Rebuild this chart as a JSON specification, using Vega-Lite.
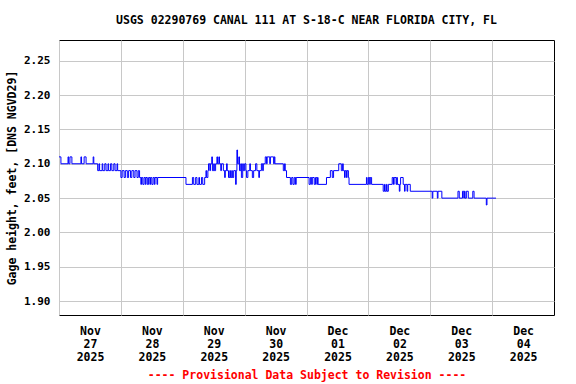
{
  "$schema": "https://vega.github.io/schema/vega-lite/v6.json",
  "width": 495,
  "height": 275,
  "autosize": {"type": "none"},
  "padding": {"left": 59, "top": 40, "right": 22, "bottom": 69},
  "background": "white",
  "config": {
    "view": {"stroke": "black", "strokeWidth": 1},
    "font": "DejaVu Sans Mono",
    "axis": {"labelFont": "DejaVu Sans Mono", "titleFont": "DejaVu Sans Mono", "labelFontWeight": "bold", "titleFontWeight": "bold", "labelColor": "black", "titleColor": "black", "gridColor": "#c8c8c8", "gridOpacity": 1, "gridWidth": 1, "domain": false, "ticks": false}
  },
  "title": {"text": "USGS 02290769 CANAL 111 AT S-18-C NEAR FLORIDA CITY, FL", "font": "DejaVu Sans Mono", "fontSize": 11.5, "fontWeight": "bold", "color": "black", "anchor": "middle", "offset": 14},
  "data": {"values": [
    {"t": "2025-11-27T00:00", "v": 2.11}, {"t": "2025-11-27T00:45", "v": 2.10}, {"t": "2025-11-27T03:30", "v": 2.11}, {"t": "2025-11-27T03:45", "v": 2.10},
    {"t": "2025-11-27T04:15", "v": 2.11}, {"t": "2025-11-27T05:00", "v": 2.10}, {"t": "2025-11-27T08:30", "v": 2.11}, {"t": "2025-11-27T08:45", "v": 2.10},
    {"t": "2025-11-27T09:45", "v": 2.11}, {"t": "2025-11-27T10:30", "v": 2.10}, {"t": "2025-11-27T13:15", "v": 2.11}, {"t": "2025-11-27T13:30", "v": 2.10},
    {"t": "2025-11-27T15:00", "v": 2.09}, {"t": "2025-11-27T15:30", "v": 2.10}, {"t": "2025-11-27T15:45", "v": 2.09}, {"t": "2025-11-27T16:45", "v": 2.10},
    {"t": "2025-11-27T17:00", "v": 2.09}, {"t": "2025-11-27T17:45", "v": 2.10}, {"t": "2025-11-27T18:15", "v": 2.09}, {"t": "2025-11-27T19:00", "v": 2.10},
    {"t": "2025-11-27T19:15", "v": 2.09}, {"t": "2025-11-27T20:00", "v": 2.10}, {"t": "2025-11-27T20:30", "v": 2.09}, {"t": "2025-11-27T21:15", "v": 2.10},
    {"t": "2025-11-27T21:45", "v": 2.09}, {"t": "2025-11-27T22:30", "v": 2.10}, {"t": "2025-11-27T22:45", "v": 2.09},
    {"t": "2025-11-28T00:00", "v": 2.08}, {"t": "2025-11-28T00:30", "v": 2.09}, {"t": "2025-11-28T01:15", "v": 2.08}, {"t": "2025-11-28T01:45", "v": 2.09},
    {"t": "2025-11-28T02:30", "v": 2.08}, {"t": "2025-11-28T03:00", "v": 2.09}, {"t": "2025-11-28T03:45", "v": 2.08}, {"t": "2025-11-28T04:15", "v": 2.09},
    {"t": "2025-11-28T05:00", "v": 2.08}, {"t": "2025-11-28T05:30", "v": 2.09}, {"t": "2025-11-28T06:15", "v": 2.08}, {"t": "2025-11-28T06:45", "v": 2.09},
    {"t": "2025-11-28T07:15", "v": 2.08}, {"t": "2025-11-28T07:45", "v": 2.07}, {"t": "2025-11-28T08:00", "v": 2.08}, {"t": "2025-11-28T08:30", "v": 2.07},
    {"t": "2025-11-28T09:00", "v": 2.08}, {"t": "2025-11-28T09:30", "v": 2.07}, {"t": "2025-11-28T09:45", "v": 2.08}, {"t": "2025-11-28T10:15", "v": 2.07},
    {"t": "2025-11-28T10:45", "v": 2.08}, {"t": "2025-11-28T11:15", "v": 2.07}, {"t": "2025-11-28T11:30", "v": 2.08}, {"t": "2025-11-28T12:00", "v": 2.07},
    {"t": "2025-11-28T12:30", "v": 2.08}, {"t": "2025-11-28T13:00", "v": 2.07}, {"t": "2025-11-28T13:15", "v": 2.08}, {"t": "2025-11-28T14:00", "v": 2.07},
    {"t": "2025-11-28T14:15", "v": 2.08},
    {"t": "2025-11-29T01:15", "v": 2.07}, {"t": "2025-11-29T03:45", "v": 2.08}, {"t": "2025-11-29T04:15", "v": 2.07}, {"t": "2025-11-29T05:00", "v": 2.08},
    {"t": "2025-11-29T05:30", "v": 2.07}, {"t": "2025-11-29T06:15", "v": 2.08}, {"t": "2025-11-29T06:30", "v": 2.07}, {"t": "2025-11-29T07:15", "v": 2.08},
    {"t": "2025-11-29T07:45", "v": 2.07}, {"t": "2025-11-29T08:30", "v": 2.08}, {"t": "2025-11-29T09:00", "v": 2.09}, {"t": "2025-11-29T09:15", "v": 2.08},
    {"t": "2025-11-29T09:45", "v": 2.09}, {"t": "2025-11-29T10:00", "v": 2.10}, {"t": "2025-11-29T10:30", "v": 2.09}, {"t": "2025-11-29T10:45", "v": 2.10},
    {"t": "2025-11-29T11:15", "v": 2.11}, {"t": "2025-11-29T11:30", "v": 2.09}, {"t": "2025-11-29T12:00", "v": 2.10}, {"t": "2025-11-29T12:15", "v": 2.09},
    {"t": "2025-11-29T12:45", "v": 2.10}, {"t": "2025-11-29T13:15", "v": 2.11}, {"t": "2025-11-29T13:30", "v": 2.10}, {"t": "2025-11-29T14:00", "v": 2.11},
    {"t": "2025-11-29T14:15", "v": 2.10}, {"t": "2025-11-29T14:45", "v": 2.09}, {"t": "2025-11-29T15:00", "v": 2.10}, {"t": "2025-11-29T15:45", "v": 2.09},
    {"t": "2025-11-29T16:15", "v": 2.08}, {"t": "2025-11-29T16:30", "v": 2.09}, {"t": "2025-11-29T17:00", "v": 2.10}, {"t": "2025-11-29T17:15", "v": 2.09},
    {"t": "2025-11-29T17:45", "v": 2.08}, {"t": "2025-11-29T18:15", "v": 2.09}, {"t": "2025-11-29T18:30", "v": 2.08}, {"t": "2025-11-29T19:00", "v": 2.09},
    {"t": "2025-11-29T19:15", "v": 2.08}, {"t": "2025-11-29T19:45", "v": 2.09}, {"t": "2025-11-29T20:30", "v": 2.07}, {"t": "2025-11-29T20:45", "v": 2.09},
    {"t": "2025-11-29T21:00", "v": 2.12}, {"t": "2025-11-29T21:15", "v": 2.10}, {"t": "2025-11-29T21:45", "v": 2.11}, {"t": "2025-11-29T22:00", "v": 2.09},
    {"t": "2025-11-29T22:30", "v": 2.10}, {"t": "2025-11-29T22:45", "v": 2.08}, {"t": "2025-11-29T23:15", "v": 2.10}, {"t": "2025-11-29T23:30", "v": 2.09},
    {"t": "2025-11-30T00:00", "v": 2.10}, {"t": "2025-11-30T00:30", "v": 2.09}, {"t": "2025-11-30T00:45", "v": 2.08}, {"t": "2025-11-30T01:15", "v": 2.09},
    {"t": "2025-11-30T02:00", "v": 2.10}, {"t": "2025-11-30T02:15", "v": 2.09}, {"t": "2025-11-30T03:00", "v": 2.08}, {"t": "2025-11-30T03:30", "v": 2.09},
    {"t": "2025-11-30T04:15", "v": 2.10}, {"t": "2025-11-30T04:45", "v": 2.09}, {"t": "2025-11-30T05:30", "v": 2.08}, {"t": "2025-11-30T05:45", "v": 2.09},
    {"t": "2025-11-30T06:30", "v": 2.10}, {"t": "2025-11-30T07:00", "v": 2.09}, {"t": "2025-11-30T07:15", "v": 2.10}, {"t": "2025-11-30T08:00", "v": 2.11},
    {"t": "2025-11-30T08:30", "v": 2.10}, {"t": "2025-11-30T08:45", "v": 2.11}, {"t": "2025-11-30T09:45", "v": 2.10}, {"t": "2025-11-30T10:00", "v": 2.11},
    {"t": "2025-11-30T11:15", "v": 2.10}, {"t": "2025-11-30T11:30", "v": 2.11}, {"t": "2025-11-30T11:45", "v": 2.10}, {"t": "2025-11-30T15:00", "v": 2.09},
    {"t": "2025-11-30T15:30", "v": 2.10}, {"t": "2025-11-30T15:45", "v": 2.09}, {"t": "2025-11-30T16:15", "v": 2.08}, {"t": "2025-11-30T17:45", "v": 2.07},
    {"t": "2025-11-30T18:15", "v": 2.08}, {"t": "2025-11-30T18:45", "v": 2.07}, {"t": "2025-11-30T19:15", "v": 2.08}, {"t": "2025-11-30T19:45", "v": 2.07},
    {"t": "2025-11-30T20:00", "v": 2.08},
    {"t": "2025-12-01T01:00", "v": 2.07}, {"t": "2025-12-01T01:30", "v": 2.08}, {"t": "2025-12-01T02:00", "v": 2.07}, {"t": "2025-12-01T02:15", "v": 2.08},
    {"t": "2025-12-01T03:00", "v": 2.07}, {"t": "2025-12-01T03:30", "v": 2.08}, {"t": "2025-12-01T04:00", "v": 2.07}, {"t": "2025-12-01T04:15", "v": 2.08},
    {"t": "2025-12-01T04:30", "v": 2.07}, {"t": "2025-12-01T07:45", "v": 2.08}, {"t": "2025-12-01T09:15", "v": 2.09}, {"t": "2025-12-01T10:00", "v": 2.08},
    {"t": "2025-12-01T10:30", "v": 2.09}, {"t": "2025-12-01T12:30", "v": 2.10}, {"t": "2025-12-01T13:30", "v": 2.09}, {"t": "2025-12-01T14:00", "v": 2.10},
    {"t": "2025-12-01T14:15", "v": 2.09}, {"t": "2025-12-01T14:45", "v": 2.08}, {"t": "2025-12-01T15:00", "v": 2.09}, {"t": "2025-12-01T15:30", "v": 2.08},
    {"t": "2025-12-01T15:45", "v": 2.09}, {"t": "2025-12-01T16:15", "v": 2.08}, {"t": "2025-12-01T16:30", "v": 2.07}, {"t": "2025-12-01T23:15", "v": 2.08},
    {"t": "2025-12-01T23:30", "v": 2.07},
    {"t": "2025-12-02T00:00", "v": 2.08}, {"t": "2025-12-02T00:30", "v": 2.07}, {"t": "2025-12-02T00:45", "v": 2.08}, {"t": "2025-12-02T01:15", "v": 2.07},
    {"t": "2025-12-02T05:45", "v": 2.06}, {"t": "2025-12-02T06:15", "v": 2.07}, {"t": "2025-12-02T06:30", "v": 2.06}, {"t": "2025-12-02T07:00", "v": 2.07},
    {"t": "2025-12-02T07:15", "v": 2.06}, {"t": "2025-12-02T07:45", "v": 2.07}, {"t": "2025-12-02T09:15", "v": 2.08}, {"t": "2025-12-02T09:45", "v": 2.07},
    {"t": "2025-12-02T10:00", "v": 2.08}, {"t": "2025-12-02T10:45", "v": 2.07}, {"t": "2025-12-02T11:00", "v": 2.08}, {"t": "2025-12-02T11:15", "v": 2.07},
    {"t": "2025-12-02T12:00", "v": 2.06}, {"t": "2025-12-02T12:15", "v": 2.07}, {"t": "2025-12-02T12:30", "v": 2.08}, {"t": "2025-12-02T13:30", "v": 2.07},
    {"t": "2025-12-02T14:00", "v": 2.06}, {"t": "2025-12-02T14:15", "v": 2.07}, {"t": "2025-12-02T15:00", "v": 2.06}, {"t": "2025-12-02T15:15", "v": 2.07},
    {"t": "2025-12-02T16:15", "v": 2.06},
    {"t": "2025-12-03T00:45", "v": 2.05}, {"t": "2025-12-03T01:00", "v": 2.06}, {"t": "2025-12-03T02:45", "v": 2.05}, {"t": "2025-12-03T03:00", "v": 2.06},
    {"t": "2025-12-03T04:30", "v": 2.05}, {"t": "2025-12-03T10:45", "v": 2.06}, {"t": "2025-12-03T11:15", "v": 2.05}, {"t": "2025-12-03T12:30", "v": 2.06},
    {"t": "2025-12-03T13:00", "v": 2.05}, {"t": "2025-12-03T13:15", "v": 2.06}, {"t": "2025-12-03T13:30", "v": 2.05}, {"t": "2025-12-03T14:00", "v": 2.06},
    {"t": "2025-12-03T14:45", "v": 2.05}, {"t": "2025-12-03T16:30", "v": 2.06}, {"t": "2025-12-03T17:00", "v": 2.05}, {"t": "2025-12-03T21:45", "v": 2.04},
    {"t": "2025-12-03T22:00", "v": 2.05},
    {"t": "2025-12-04T01:30", "v": 2.05}
  ]},
  "mark": {"type": "line", "interpolate": "step-after", "color": "#0000ff", "strokeWidth": 1},
  "encoding": {
    "x": {
      "field": "t", "type": "temporal",
      "scale": {"domain": [{"year": 2025, "month": 11, "date": 27}, {"year": 2025, "month": 12, "date": 5}], "nice": false},
      "axis": {
        "values": [
          {"year": 2025, "month": 11, "date": 27}, {"year": 2025, "month": 11, "date": 28}, {"year": 2025, "month": 11, "date": 29}, {"year": 2025, "month": 11, "date": 30},
          {"year": 2025, "month": 12, "date": 1}, {"year": 2025, "month": 12, "date": 2}, {"year": 2025, "month": 12, "date": 3}, {"year": 2025, "month": 12, "date": 4}
        ],
        "labelExpr": "[timeFormat(datum.value, '%b'), timeFormat(datum.value, '%d'), timeFormat(datum.value, '%Y')]",
        "labelOffset": 31, "labelFlush": false, "labelOverlap": false, "labelBound": false,
        "labelFontSize": 11.5, "labelLineHeight": 13, "labelPadding": 10, "labelAngle": 0,
        "grid": true,
        "title": "---- Provisional Data Subject to Revision ----",
        "titleColor": "#ff0000", "titleFontSize": 11.5, "titlePadding": 7
      }
    },
    "y": {
      "field": "v", "type": "quantitative",
      "scale": {"domain": [1.88, 2.28], "nice": false, "zero": false},
      "axis": {
        "values": [1.9, 1.95, 2.0, 2.05, 2.1, 2.15, 2.2, 2.25],
        "format": ".2f", "labelFontSize": 11, "labelPadding": 9, "grid": true,
        "title": "Gage height, feet, [DNS NGVD29]", "titleFontSize": 11.5, "titlePadding": 6
      }
    }
  }
}
